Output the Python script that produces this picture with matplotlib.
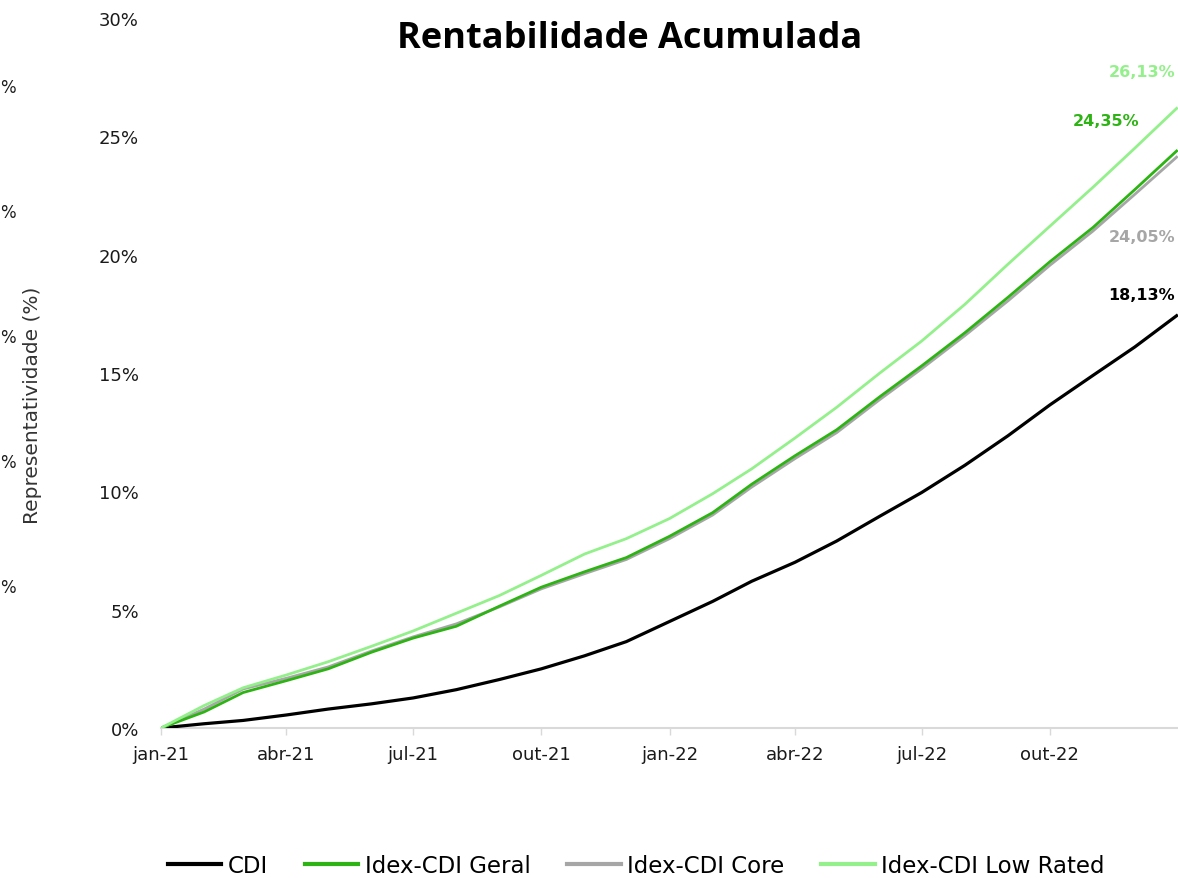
import matplotlib
matplotlib.use("Agg")
import matplotlib.pyplot as plt
import matplotlib.transforms as mtransforms
import pandas as pd

# ---------------- data ----------------
dates = ["2021-01-01", "2021-02-01", "2021-03-01", "2021-04-01", "2021-05-01",
         "2021-06-01", "2021-07-01", "2021-08-01", "2021-09-01", "2021-10-01",
         "2021-11-01", "2021-12-01", "2022-01-01", "2022-02-01", "2022-03-01",
         "2022-04-01", "2022-05-01", "2022-06-01", "2022-07-01", "2022-08-01",
         "2022-09-01", "2022-10-01", "2022-11-01", "2022-12-01", "2022-12-31"]

cdi = [0.0, 0.18, 0.32, 0.55, 0.80, 1.02, 1.27, 1.62, 2.05, 2.50, 3.05, 3.65,
       4.50, 5.35, 6.20, 7.00, 7.90, 8.95, 9.95, 11.10, 12.35, 13.65, 14.90,
       16.10, 17.42]
geral = [0.0, 0.68, 1.50, 2.00, 2.50, 3.20, 3.80, 4.30, 5.15, 5.95, 6.60, 7.20,
         8.10, 9.10, 10.30, 11.50, 12.60, 14.00, 15.30, 16.70, 18.20, 19.70,
         21.15, 22.75, 24.38]
core = [0.0, 0.80, 1.65, 2.10, 2.58, 3.25, 3.85, 4.40, 5.12, 5.88, 6.52, 7.12,
        8.00, 9.00, 10.18, 11.38, 12.48, 13.88, 15.18, 16.58, 18.05, 19.55,
        21.00, 22.55, 24.12]
low_rated = [0.0, 0.95, 1.70, 2.24, 2.80, 3.45, 4.10, 4.85, 5.60, 6.45, 7.35,
             8.00, 8.85, 9.90, 10.95, 12.25, 13.55, 15.00, 16.35, 17.90, 19.60,
             21.20, 22.85, 24.50, 26.18]

series_names = ["CDI", "Idex-CDI Geral", "Idex-CDI Core", "Idex-CDI Low Rated"]
final_labels = ["18,13%", "24,35%", "24,05%", "26,13%"]

tick_dates = ["2021-01-01", "2021-04-01", "2021-07-01", "2021-10-01",
              "2022-01-01", "2022-04-01", "2022-07-01", "2022-10-01"]
tick_labels = ["jan-21", "abr-21", "jul-21", "out-21",
               "jan-22", "abr-22", "jul-22", "out-22"]
y_ticks = [0, 5, 10, 15, 20, 25, 30]

# ---------------- styling ----------------
C_CDI = "#000000"
C_GERAL = "#2DB414"
C_CORE = "#A6A6A6"
C_LOW = "#93F08B"

W, H = 1178, 879
fig = plt.figure(figsize=(W / 100, H / 100), dpi=100)
ax = fig.add_axes([161 / W, 1 - 729 / H, 1 - 161 / W, (729 - 19) / H])

x = pd.to_datetime(dates)
l_cdi, = ax.plot(x, cdi, color=C_CDI, lw=2.3, zorder=3, label=series_names[0])
l_core, = ax.plot(x, core, color=C_CORE, lw=2.0, zorder=4, label=series_names[2])
l_geral, = ax.plot(x, geral, color=C_GERAL, lw=2.0, zorder=5, label=series_names[1])
l_low, = ax.plot(x, low_rated, color=C_LOW, lw=2.0, zorder=6, label=series_names[3])

ax.set_xlim(pd.Timestamp("2021-01-01"), pd.Timestamp("2023-01-01"))
ax.set_ylim(0, 30)

ax.set_xticks(pd.to_datetime(tick_dates))
ax.set_xticklabels(tick_labels)
ax.set_yticks(y_ticks)
ax.set_yticklabels([f"{v}%" for v in y_ticks])

for s in ["top", "right", "left"]:
    ax.spines[s].set_visible(False)
ax.spines["bottom"].set_color("#D9D9D9")
ax.spines["bottom"].set_linewidth(1.5)
ax.tick_params(axis="x", colors="#D9D9D9", length=5, width=1, pad=7,
               labelcolor="#1a1a1a", labelsize=13)
ax.tick_params(axis="y", length=0, pad=16, labelcolor="#1a1a1a", labelsize=13)
for lab in ax.get_xticklabels() + ax.get_yticklabels():
    lab.set_family("DejaVu Sans")

# end-of-line value labels
trans = mtransforms.blended_transform_factory(ax.transAxes, ax.transData)
lab_style = dict(transform=trans, ha="right", va="center", fontsize=11.5,
                 fontweight="bold", family="DejaVu Sans")
ax.text((1175 - 161) / (W - 161), (729 - 72) / 23.67, final_labels[3], color=C_LOW, **lab_style)
ax.text((1139 - 161) / (W - 161), (729 - 121) / 23.67, final_labels[1], color=C_GERAL, **lab_style)
ax.text((1175 - 161) / (W - 161), (729 - 237) / 23.67, final_labels[2], color=C_CORE, **lab_style)
ax.text((1175 - 161) / (W - 161), (729 - 295) / 23.67, final_labels[0], color=C_CDI, **lab_style)

# title
fig.text(629.5 / W, 1 - 47.5 / H, "Rentabilidade Acumulada", ha="center",
         va="baseline", fontsize=26, fontweight="bold", family="Open Sans",
         color="#000000")

# clipped secondary-axis remnants on the far left
for yp in [88, 213, 338, 463, 588]:
    fig.text(0.5 / W, 1 - yp / H, "%", ha="left", va="center", fontsize=12,
             family="DejaVu Sans", color="#1a1a1a")
fig.text(33 / W, 1 - 405 / H, "Representatividade (%)", rotation=90,
         ha="center", va="center", fontsize=14.5, family="DejaVu Sans",
         color="#333333")

# legend
fig.legend(handles=[l_cdi, l_geral, l_core, l_low], labels=series_names,
           loc="center", bbox_to_anchor=(636 / W, 1 - 867 / H), ncol=4,
           frameon=False, handlelength=2.35, handletextpad=0.27,
           columnspacing=1.6, prop={"family": "DejaVu Sans", "size": 16.5})
for line in fig.legends[0].get_lines():
    line.set_linewidth(3)

fig.savefig("out.png", dpi=100)
